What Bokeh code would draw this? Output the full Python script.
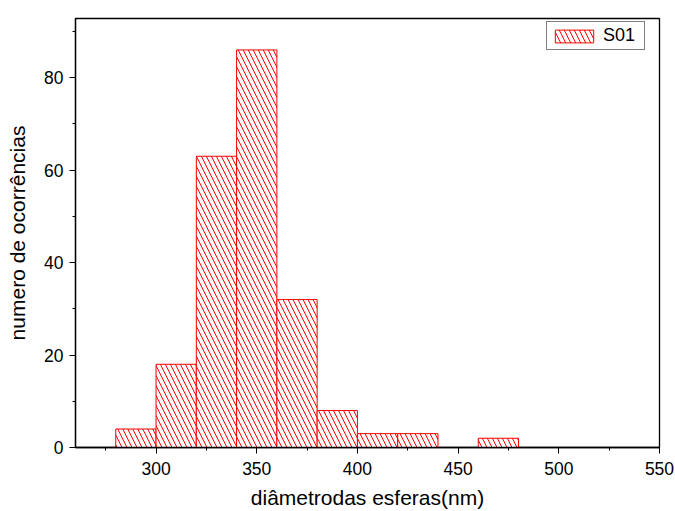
from bokeh.plotting import figure
from bokeh.models import SingleIntervalTicker, Legend, LegendItem, Range1d
from bokeh.embed import file_html
from bokeh.resources import INLINE

bin_left = [280, 300, 320, 340, 360, 380, 400, 420, 460]
bin_right = [300, 320, 340, 360, 380, 400, 420, 440, 480]
counts = [4, 18, 63, 86, 32, 8, 3, 3, 2]
series_name = "S01"
x_label = "diâmetrodas esferas(nm)"
y_label = "numero de ocorrências"

FONT = "Liberation Sans"

p = figure(width=675, height=511, output_backend="svg", toolbar_location=None,
           x_range=Range1d(260, 550), y_range=Range1d(0, 92.8),
           min_border_left=75, min_border_right=16, min_border_top=18, min_border_bottom=64)

r = p.quad(left=bin_left, right=bin_right, top=counts, bottom=0,
           fill_color="white", line_color="#ff0000", line_width=1,
           hatch_pattern="\\", hatch_color="#ff0000", hatch_scale=10, hatch_weight=1)

p.xgrid.visible = False
p.ygrid.visible = False
p.outline_line_color = "black"
p.outline_line_width = 1.3

for ax in (p.xaxis[0], p.yaxis[0]):
    ax.axis_line_color = "black"
    ax.axis_line_width = 1.3
    ax.major_tick_line_color = "black"
    ax.minor_tick_line_color = "black"
    ax.major_tick_in = 0
    ax.major_tick_out = 6
    ax.minor_tick_in = 0
    ax.minor_tick_out = 3
    ax.major_label_text_font = FONT
    ax.major_label_text_font_size = "17.5px"
    ax.major_label_text_color = "black"
    ax.axis_label_text_font = FONT
    ax.axis_label_text_font_size = "21px"
    ax.axis_label_text_font_style = "normal"
    ax.axis_label_text_color = "black"

p.xaxis.ticker = SingleIntervalTicker(interval=50, num_minor_ticks=2)
p.yaxis.ticker = SingleIntervalTicker(interval=20, num_minor_ticks=2)
p.xaxis.axis_label = x_label
p.yaxis.axis_label = y_label
p.xaxis.major_label_standoff = 8
p.xaxis.axis_label_standoff = 8
p.yaxis.major_label_standoff = 6
p.yaxis.axis_label_standoff = 12

legend = Legend(items=[LegendItem(label=series_name, renderers=[r])],
                location=(471, 397), margin=0,
                glyph_width=48, glyph_height=16,
                label_text_font=FONT, label_text_font_size="18px",
                label_text_color="black", label_standoff=5,
                label_width=38, label_height=19,
                padding=3, spacing=0, border_line_color="black", border_line_width=1,
                background_fill_alpha=1)
p.add_layout(legend)

open("out.html", "w").write(file_html(p, INLINE))
